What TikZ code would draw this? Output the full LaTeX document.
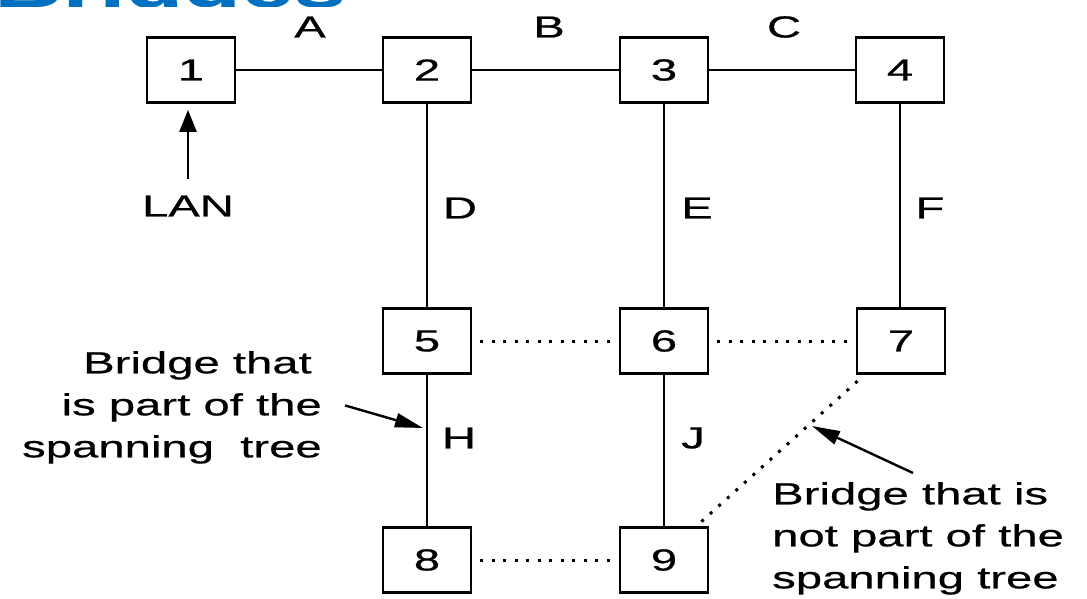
\documentclass[tikz,border=0pt]{standalone}
\usepackage{fontspec}
\setmainfont{Liberation Sans}[FakeStretch=1.55,FakeBold=0.6]
\usetikzlibrary{arrows.meta,calc}
\definecolor{titleblue}{HTML}{0070C0}
\begin{document}
\begin{tikzpicture}[x=1pt,y=-1pt,
  bridgebox/.style={draw, line width=2.8pt, minimum width=88pt, minimum height=65pt, inner sep=0pt, font=\fontsize{30.5}{36}\selectfont},
  lbl/.style={inner sep=0pt, font=\fontsize{30.5}{36}\selectfont},
  lanline/.style={line width=2.4pt},
  offline/.style={line width=3pt, dash pattern=on 3pt off 8.5pt},
  pointer/.style={line width=2.4pt, -{Triangle[length=28pt,width=14pt]}},
  lanpointer/.style={line width=2.6pt, -{Triangle[length=22pt,width=17pt]}},
  note/.style={inner sep=0pt, font=\fontsize{30.5}{42}\selectfont}
]
\useasboundingbox[fill=white] (0,0) rectangle (1087,599);

% clipped title fragment
\begin{scope}
\clip (0,-100) rectangle (1087,7);
\node[anchor=base west, inner sep=0pt, text=titleblue, font=\fontsize{61}{61}\selectfont\bfseries] (title) at (-6,7) {Bridges};
\end{scope}

% bridges
\node[bridgebox] (b1) at (191,70) {1};
\node[bridgebox] (b2) at (427,70) {2};
\node[bridgebox] (b3) at (664,70) {3};
\node[bridgebox] (b4) at (900,70) {4};
\node[bridgebox] (b5) at (427,341) {5};
\node[bridgebox] (b6) at (664,341) {6};
\node[bridgebox] (b7) at (901,341) {7};
\node[bridgebox] (b8) at (427,560) {8};
\node[bridgebox] (b9) at (664,560) {9};

% LAN segments (solid)
\draw[lanline] (b1) -- (b2);
\draw[lanline] (b2) -- (b3);
\draw[lanline] (b3) -- (b4);
\draw[lanline] (b2) -- (b5);
\draw[lanline] (b3) -- (b6);
\draw[lanline] (b4.south) -- (b4.south |- b7.north);
\draw[lanline] (b5) -- (b8);
\draw[lanline] (b6) -- (b9);

% non-tree connections (dotted)
\draw[offline, shorten <=8pt, shorten >=8pt] (b5) -- (b6);
\draw[offline, shorten <=8pt, shorten >=4pt] (b6) -- (b7);
\draw[offline, shorten <=8pt, shorten >=8pt] (b8) -- (b9);
\draw[offline] ([xshift=-8pt,yshift=4.5pt]b9.north east) -- ([xshift=6pt,yshift=-2.5pt]b7.south west);

% segment labels
\node[lbl] (la) at (310,27) {A};
\node[lbl] (lb) at (549,27) {B};
\node[lbl] (lc) at (784,27) {C};
\node[lbl] (ld) at (460,208) {D};
\node[lbl] (le) at (697,208) {E};
\node[lbl] (lf) at (930,208) {F};
\node[lbl] (lh) at (459,438) {H};
\node[lbl] (lj) at (693,438) {J};

% LAN
\node[lbl] (lan) at (188,206) {LAN};
\draw[lanpointer, shorten <=16pt, shorten >=6pt] (lan.north) -- (lan.north |- b1.south);

% notes
\node[note, align=right, anchor=north east] (lnote) at (322,351) {Bridge that\hspace*{10pt}\\is part of the\\spanning\ \ tree};
\coordinate (ltip) at (423,428);
\draw[pointer] ($(lnote.east)+(23,-2)$) -- (ltip);

\node[note, align=left, anchor=north west] (rnote) at (772,482) {Bridge that is\\not part of the\\spanning tree};
\coordinate (rtip) at (812,426);
\draw[pointer] ($(rnote.north west)+(141,-9)$) -- (rtip);
\end{tikzpicture}
\end{document}
